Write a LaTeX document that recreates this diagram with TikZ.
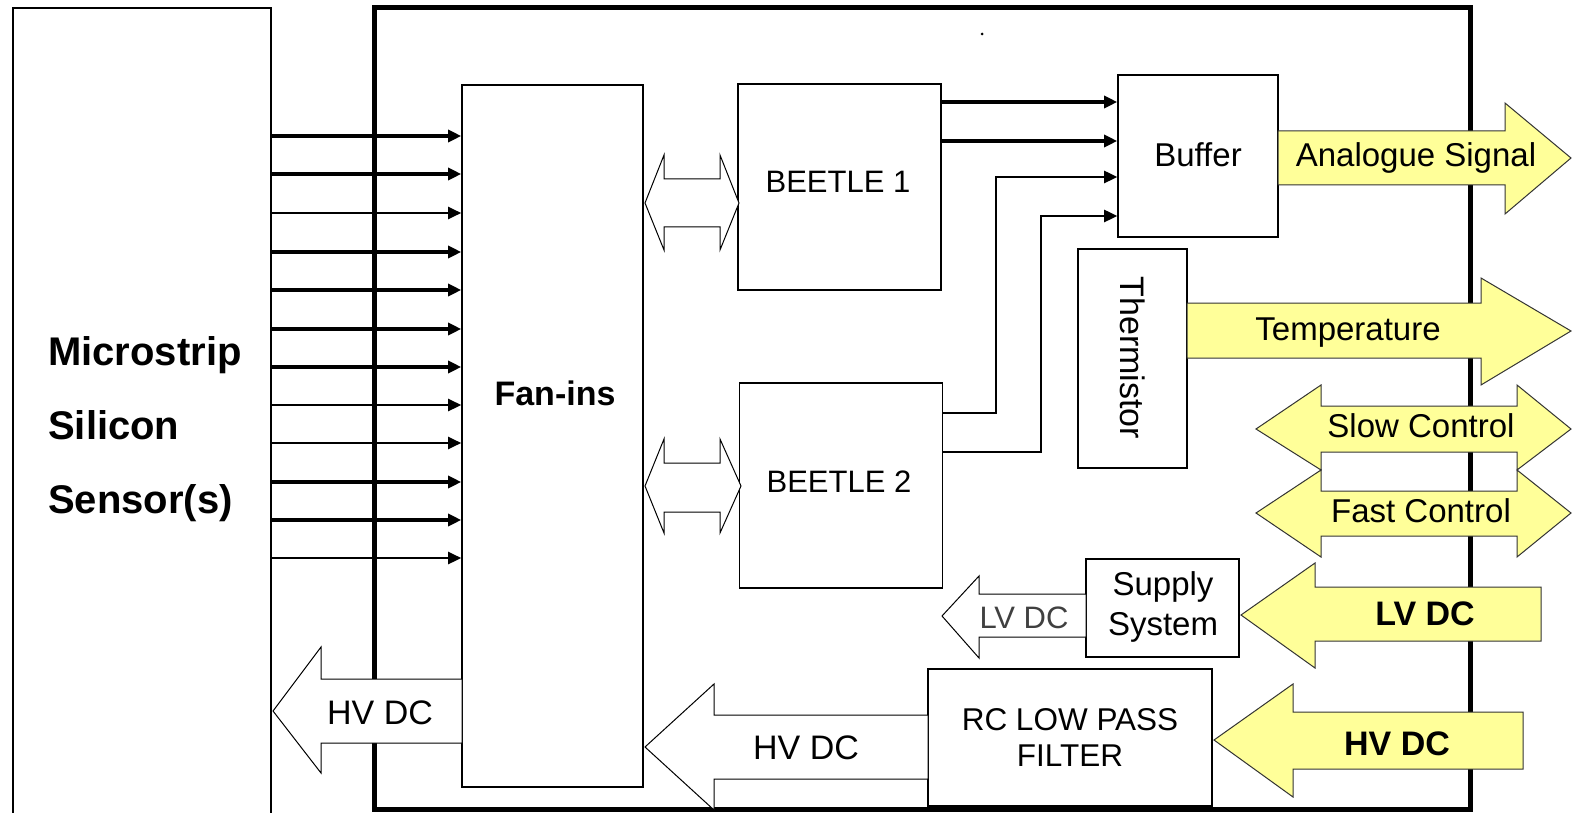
\documentclass[tikz,border=0pt]{standalone}
\usepackage{fontspec}
\setmainfont{Liberation Sans}
\usetikzlibrary{arrows.meta,calc}
\newcommand\fsz[1]{\fontsize{#1pt}{#1pt}\selectfont}
\definecolor{yelfill}{RGB}{255,255,153}
\begin{document}
\begin{tikzpicture}[x=1pt,y=-1pt,
  box/.style={draw=black, line width=1.6pt, inner sep=0pt},
  lbl/.style={inner sep=0pt, anchor=base, font=\fsz{33}},
  inarr/.style={-{Triangle[length=13pt,width=12pt]}, line width=3.2pt},
  yel/.style={fill=yelfill, draw=black!80, line width=1pt, line join=miter},
  hol/.style={fill=white, draw=black, line width=1pt, line join=miter}]
\useasboundingbox[fill=white] (0,0) rectangle (1572,813);

% board outline
\node[draw, line width=5pt, minimum width=1096pt, minimum height=801pt, inner sep=0pt] (board) at (922,408.5) {};
\fill (982,34) circle (1.5pt);

% sensor (open at bottom, beyond page)
\node[draw, line width=1.8pt, minimum width=258pt, minimum height=832pt, inner sep=0pt] (sensor) at (142,424) {};

% boxes
\node[box, minimum width=181pt, minimum height=702pt] (fanins) at (552.5,436) {};
\node[box, minimum width=203pt, minimum height=206pt] (b1) at (839.5,187) {};
\node[box, minimum width=203pt, minimum height=205pt] (b2) at (841,485.5) {};
\node[box, minimum width=160pt, minimum height=162pt] (buffer) at (1198,156) {};
\node[box, minimum width=109pt, minimum height=219pt] (therm) at (1132.5,358.5) {};
\node[box, minimum width=153pt, minimum height=98pt] (supply) at (1162.5,608) {};
\node[box, minimum width=284pt, minimum height=137pt] (rc) at (1070,737.5) {};

% input strips
\foreach \yy/\ww in {136/3.2,174/3.2,213/2,252/3.2,290/3.2,329/3.2,367/3.2,405/2.6,443/2,482/3.2,520/3.2,558/2.6}
  \draw[inarr, line width=\ww pt] (sensor.east |- 0,\yy) -- (fanins.west |- 0,\yy);

% beetle -> buffer
\draw[inarr] (b1.east |- 0,102) -- (buffer.west |- 0,102);
\draw[inarr] (b1.east |- 0,141) -- (buffer.west |- 0,141);
\draw[inarr, line width=2.6pt] (b2.east |- 0,413) -| (996,177) -- (buffer.west |- 0,177);
\draw[inarr, line width=2.6pt] (b2.east |- 0,452) -| (1041,216) -- (buffer.west |- 0,216);

% hollow double arrows fan-ins <-> beetles
\draw[hol] (645,203) -- (664,155) -- (664,179) -- (720,179) -- (720,155) -- (739,203) -- (720,250) -- (720,227) -- (664,227) -- (664,250) -- cycle;
\draw[hol] (645,486) -- (664,439) -- (664,463) -- (720,463) -- (720,439) -- (741,486) -- (720,533) -- (720,512) -- (664,512) -- (664,533) -- cycle;

% hollow single arrows
\draw[hol] (273,711) -- (321,647) -- (321,679) -- (462,679) -- (462,743) -- (321,743) -- (321,773) -- cycle;
\draw[hol] (645,747) -- (714,684) -- (714,715) -- (928,715) -- (928,779) -- (714,779) -- (714,810) -- cycle;
\draw[hol] (942,616) -- (979,576) -- (979,594) -- (1086,594) -- (1086,637) -- (979,637) -- (979,658) -- cycle;

% yellow arrows
\draw[yel] (1278,131) -- (1505,131) -- (1505,103) -- (1571,158) -- (1505,214) -- (1505,185) -- (1278,185) -- cycle;
\draw[yel] (1187,303) -- (1481,303) -- (1481,278) -- (1571,331) -- (1481,385) -- (1481,358) -- (1187,358) -- cycle;
\draw[yel] (1256,429) -- (1321,385) -- (1321,406) -- (1517,406) -- (1517,385) -- (1571,429) -- (1517,470) -- (1517,452) -- (1321,452) -- (1321,470) -- cycle;
\draw[yel] (1256,513) -- (1321,470) -- (1321,491) -- (1517,491) -- (1517,470) -- (1571,513) -- (1517,557) -- (1517,536) -- (1321,536) -- (1321,557) -- cycle;
\draw[yel] (1241,615) -- (1315,563) -- (1315,587) -- (1541,587) -- (1541,641) -- (1315,641) -- (1315,668) -- cycle;
\draw[yel] (1214,740) -- (1293,684) -- (1293,712) -- (1523,712) -- (1523,769) -- (1293,769) -- (1293,797) -- cycle;

% texts
\node[lbl, anchor=base west, font=\bfseries\fsz{40}] (t-mic) at (48,365) {Microstrip};
\node[lbl, anchor=base west, font=\bfseries\fsz{40}] (t-sil) at (48,439) {Silicon};
\node[lbl, anchor=base west, font=\bfseries\fsz{40}] (t-sen) at (48,513) {Sensor(s)};
\node[lbl, font=\bfseries\fsz{34}] (t-fan) at (555,405) {Fan-ins};
\node[lbl, font=\fsz{31}] (t-b1) at (838,193) {BEETLE 1};
\node[lbl, font=\fsz{31}] (t-b2) at (839,492) {BEETLE 2};
\node[lbl] (t-buf) at (1198,167) {Buffer};
\node[inner sep=0pt, rotate=-90, font=\fsz{34}] (t-th) at (1133,358) {Thermistor};
\node[lbl] (t-sup1) at (1163,595) {Supply};
\node[lbl] (t-sup2) at (1163,635) {System};
\node[lbl, font=\fsz{31.5}] (t-rc1) at (1070,730) {RC LOW PASS};
\node[lbl, font=\fsz{31.5}] (t-rc2) at (1070,766) {FILTER};
\node[lbl, font=\fsz{34}] (t-hv1) at (380,724) {HV DC};
\node[lbl, font=\fsz{34}] (t-hv2) at (806,759) {HV DC};
\node[lbl, font=\fsz{31}, text=black!75] (t-lv) at (1024,628) {LV DC};
\node[lbl] (t-ana) at (1416,167) {Analogue Signal};
\node[lbl] (t-tem) at (1348,340) {Temperature};
\node[lbl] (t-slow) at (1421,437) {Slow Control};
\node[lbl] (t-fast) at (1421,522) {Fast Control};
\node[lbl, font=\bfseries\fsz{34}] (t-lvb) at (1425,625) {LV DC};
\node[lbl, font=\bfseries\fsz{34}] (t-hvb) at (1397,755) {HV DC};
\end{tikzpicture}
\end{document}
